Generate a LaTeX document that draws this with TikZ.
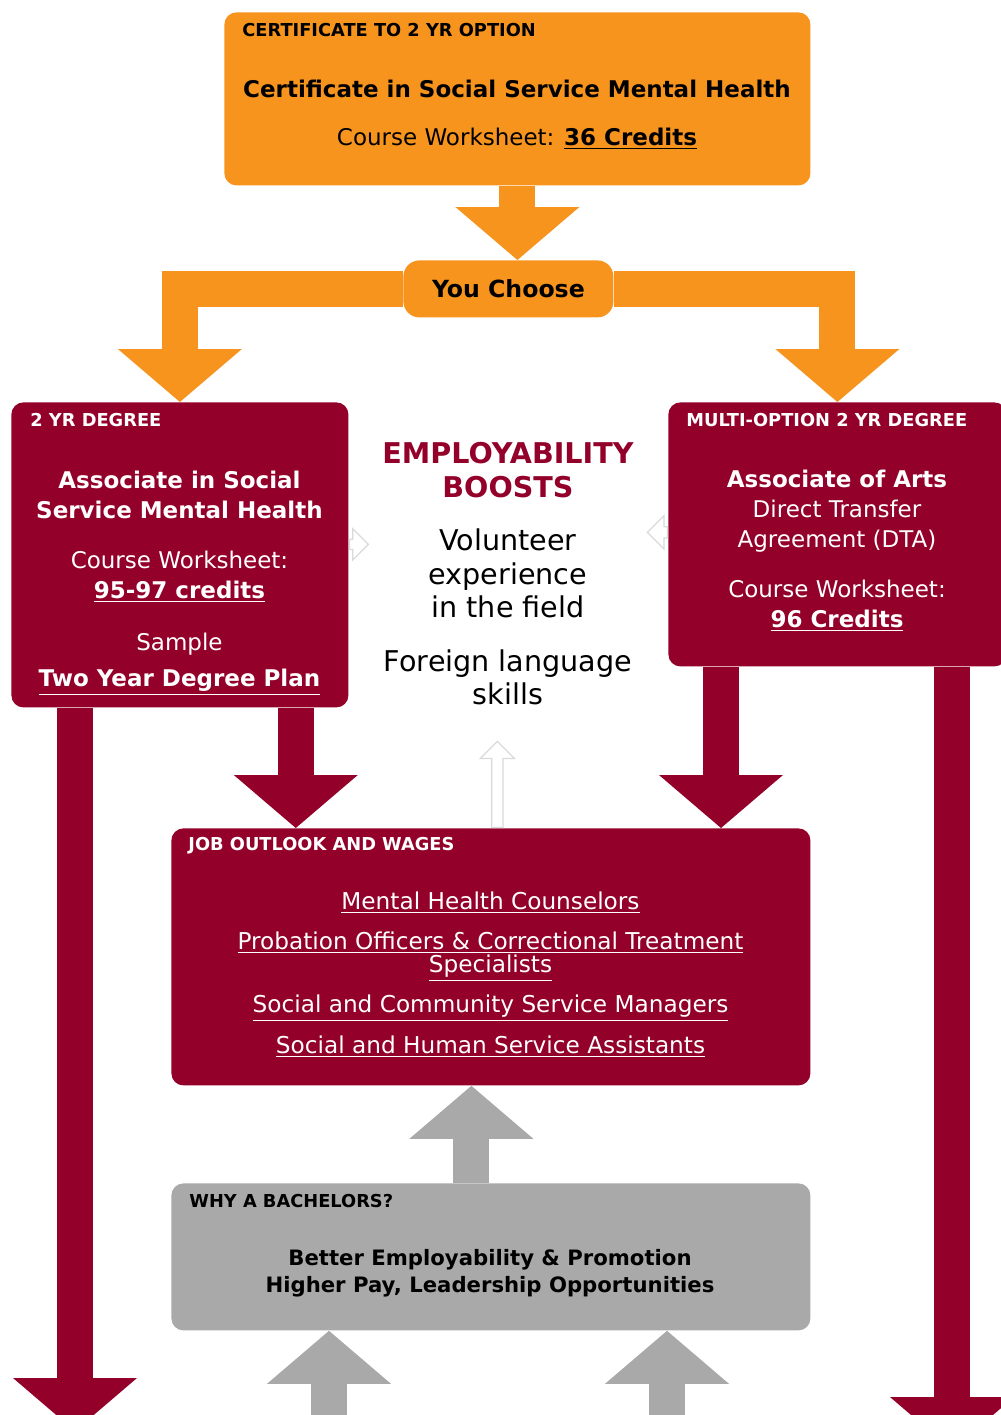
\documentclass[tikz,border=0pt]{standalone}
\usepackage{fontspec}
\setmainfont{DejaVu Sans}
\usetikzlibrary{arrows.meta,shapes.arrows}
\definecolor{ccorange}{HTML}{F7941E}
\definecolor{ccmaroon}{HTML}{93002A}
\definecolor{ccgray}{HTML}{A9A9A9}
\definecolor{ccghost}{HTML}{DADADA}
\newcommand{\ulb}[1]{\underline{\textbf{#1}}}
\begin{document}
\begin{tikzpicture}[x=0.5pt, y=-0.5pt,
    box/.style={rounded corners=6pt, anchor=north west, inner sep=0pt},
    orangebox/.style={box, fill=ccorange},
    maroonbox/.style={box, fill=ccmaroon},
    graybox/.style={box, fill=ccgray},
    hdr/.style={anchor=west, inner sep=0pt, font=\fontsize{8.9}{10}\selectfont\bfseries},
    body/.style={align=center, inner sep=0pt, font=\fontsize{11.5}{15}\selectfont},
    link/.style={body, text=white, font=\fontsize{11.6}{11.5}\selectfont},
    flow/.style={line width=18pt, -{Triangle[width=62pt, length=26.5pt, line width=0pt]}},
    ghost/.style={single arrow, draw=ccghost, fill=white, line width=0.6pt},
  ]
  \useasboundingbox (0,0) rectangle (1001,1415);
  \clip (0,0) rectangle (1001,1415);

  % Certificate and choice
  \node[orangebox, minimum width=293pt, minimum height=86.5pt] (cert) at (224,12) {};
  \node[hdr] (certhdr) at (242,30) {CERTIFICATE TO 2 YR OPTION};
  \node[body, font=\fontsize{11.5}{15}\selectfont\bfseries] (certname) at (517,89) {Certificate in Social Service Mental Health};
  \node[body] (certcred) at (517,139) {Course Worksheet: \ulb{36 Credits}};
  \node[orangebox, rounded corners=8pt, minimum width=105pt, minimum height=28.5pt,
        font=\fontsize{11.8}{14}\selectfont\bfseries] (choose) at (403,260) {You Choose};

  % Two degree boxes
  \node[maroonbox, minimum width=168.5pt, minimum height=152.5pt] (assoc) at (11,402) {};
  \node[hdr, text=white] (assochdr) at (30,420) {2 YR DEGREE};
  \node[body, text=white, font=\fontsize{11.5}{15}\selectfont\bfseries] (assocname) at (179.5,495) {Associate in Social\\Service Mental Health};
  \node[body, text=white] (assoccred) at (179.5,577) {Course Worksheet:\\\ulb{95-97 credits}};
  \node[body, text=white] (assocplan) at (179.5,664) {Sample\\[3pt]\ulb{Two Year Degree Plan}};

  \node[maroonbox, minimum width=169pt, minimum height=132pt] (aa) at (668,402) {};
  \node[hdr, text=white] (aahdr) at (686,420) {MULTI-OPTION 2 YR DEGREE};
  \node[body, text=white] (aaname) at (837,511) {\textbf{Associate of Arts}\\Direct Transfer\\Agreement (DTA)};
  \node[body, text=white] (aacred) at (837,606) {Course Worksheet:\\\ulb{96 Credits}};

  % Employability boosts
  \node[body, text=ccmaroon, font=\fontsize{14.3}{17}\selectfont\bfseries] (boosthdr) at (508,470) {EMPLOYABILITY\\BOOSTS};
  \node[body, font=\fontsize{14.3}{16.75}\selectfont] (volunteer) at (508,573.5) {Volunteer\\experience\\in the field};
  \node[body, font=\fontsize{14.3}{16.5}\selectfont] (language) at (508,677.5) {Foreign language\\skills};

  % Jobs
  \node[maroonbox, minimum width=319.5pt, minimum height=128.5pt] (jobs) at (171,828) {};
  \node[hdr, text=white] (jobshdr) at (188,846) {JOB OUTLOOK AND WAGES};
  \node[link] (counsel) at (490.5,903) {\underline{Mental Health Counselors}};
  \node[link] (probation) at (490.5,956.5) {\underline{Probation Officers \& Correctional Treatment}\\\underline{Specialists}};
  \node[link] (managers) at (490.5,1008) {\underline{Social and Community Service Managers}};
  \node[link] (assistants) at (490.5,1047) {\underline{Social and Human Service Assistants}};

  % Bachelors
  \node[graybox, minimum width=319.5pt, minimum height=73.5pt] (why) at (171,1183) {};
  \node[hdr] (whyhdr) at (189,1201) {WHY A BACHELORS?};
  \node[body, font=\fontsize{10.6}{13.5}\selectfont\bfseries] (whytxt) at (490,1273) {Better Employability \& Promotion\\Higher Pay, Leadership Opportunities};

  % orange flows
  \draw[flow, ccorange] (cert.south) -- (cert.south |- choose.north);
  \draw[flow, ccorange] (choose.west) -| (assoc.north);
  \draw[flow, ccorange] (choose.east) -| (aa.north);

  % maroon flows
  \coordinate (outL) at (75,1431);
  \coordinate (outR) at (952,1450);
  \draw[flow, ccmaroon] ([xshift=-26.5pt]assoc.south east) -- ([xshift=-26.5pt]assoc.south east |- jobs.north);
  \draw[flow, ccmaroon] ([xshift=26.5pt]aa.south west) -- ([xshift=26.5pt]aa.south west |- jobs.north);
  \draw[flow, ccmaroon] (assoc.south -| outL) -- (outL);
  \draw[flow, ccmaroon] (aa.south -| outR) -- (outR);

  % gray flows
  \coordinate (inL) at (329,1450);
  \coordinate (inR) at (667,1450);
  \draw[flow, ccgray] ([xshift=-9.75pt]why.north) -- ([xshift=-9.75pt]why.north |- jobs.south);
  \draw[flow, ccgray] (inL) -- (inL |- why.south);
  \draw[flow, ccgray] (inR) -- (inR |- why.south);

  % faint arrows
  \node[ghost, anchor=tail, inner sep=2.25pt, minimum height=9.5pt, single arrow head extend=5.25pt] (ghostA) at ([yshift=5.25pt]assoc.east) {};
  \node[ghost, shape border rotate=180, anchor=tail, inner sep=2.5pt, minimum height=10pt, single arrow head extend=5.5pt] (ghostB) at ([yshift=1pt]aa.west) {};
  \node[ghost, shape border rotate=90, anchor=tail, inner sep=2.5pt, minimum height=43pt, single arrow head extend=5.75pt] (ghostC) at ([xshift=3.25pt]jobs.north) {};
\end{tikzpicture}
\end{document}
